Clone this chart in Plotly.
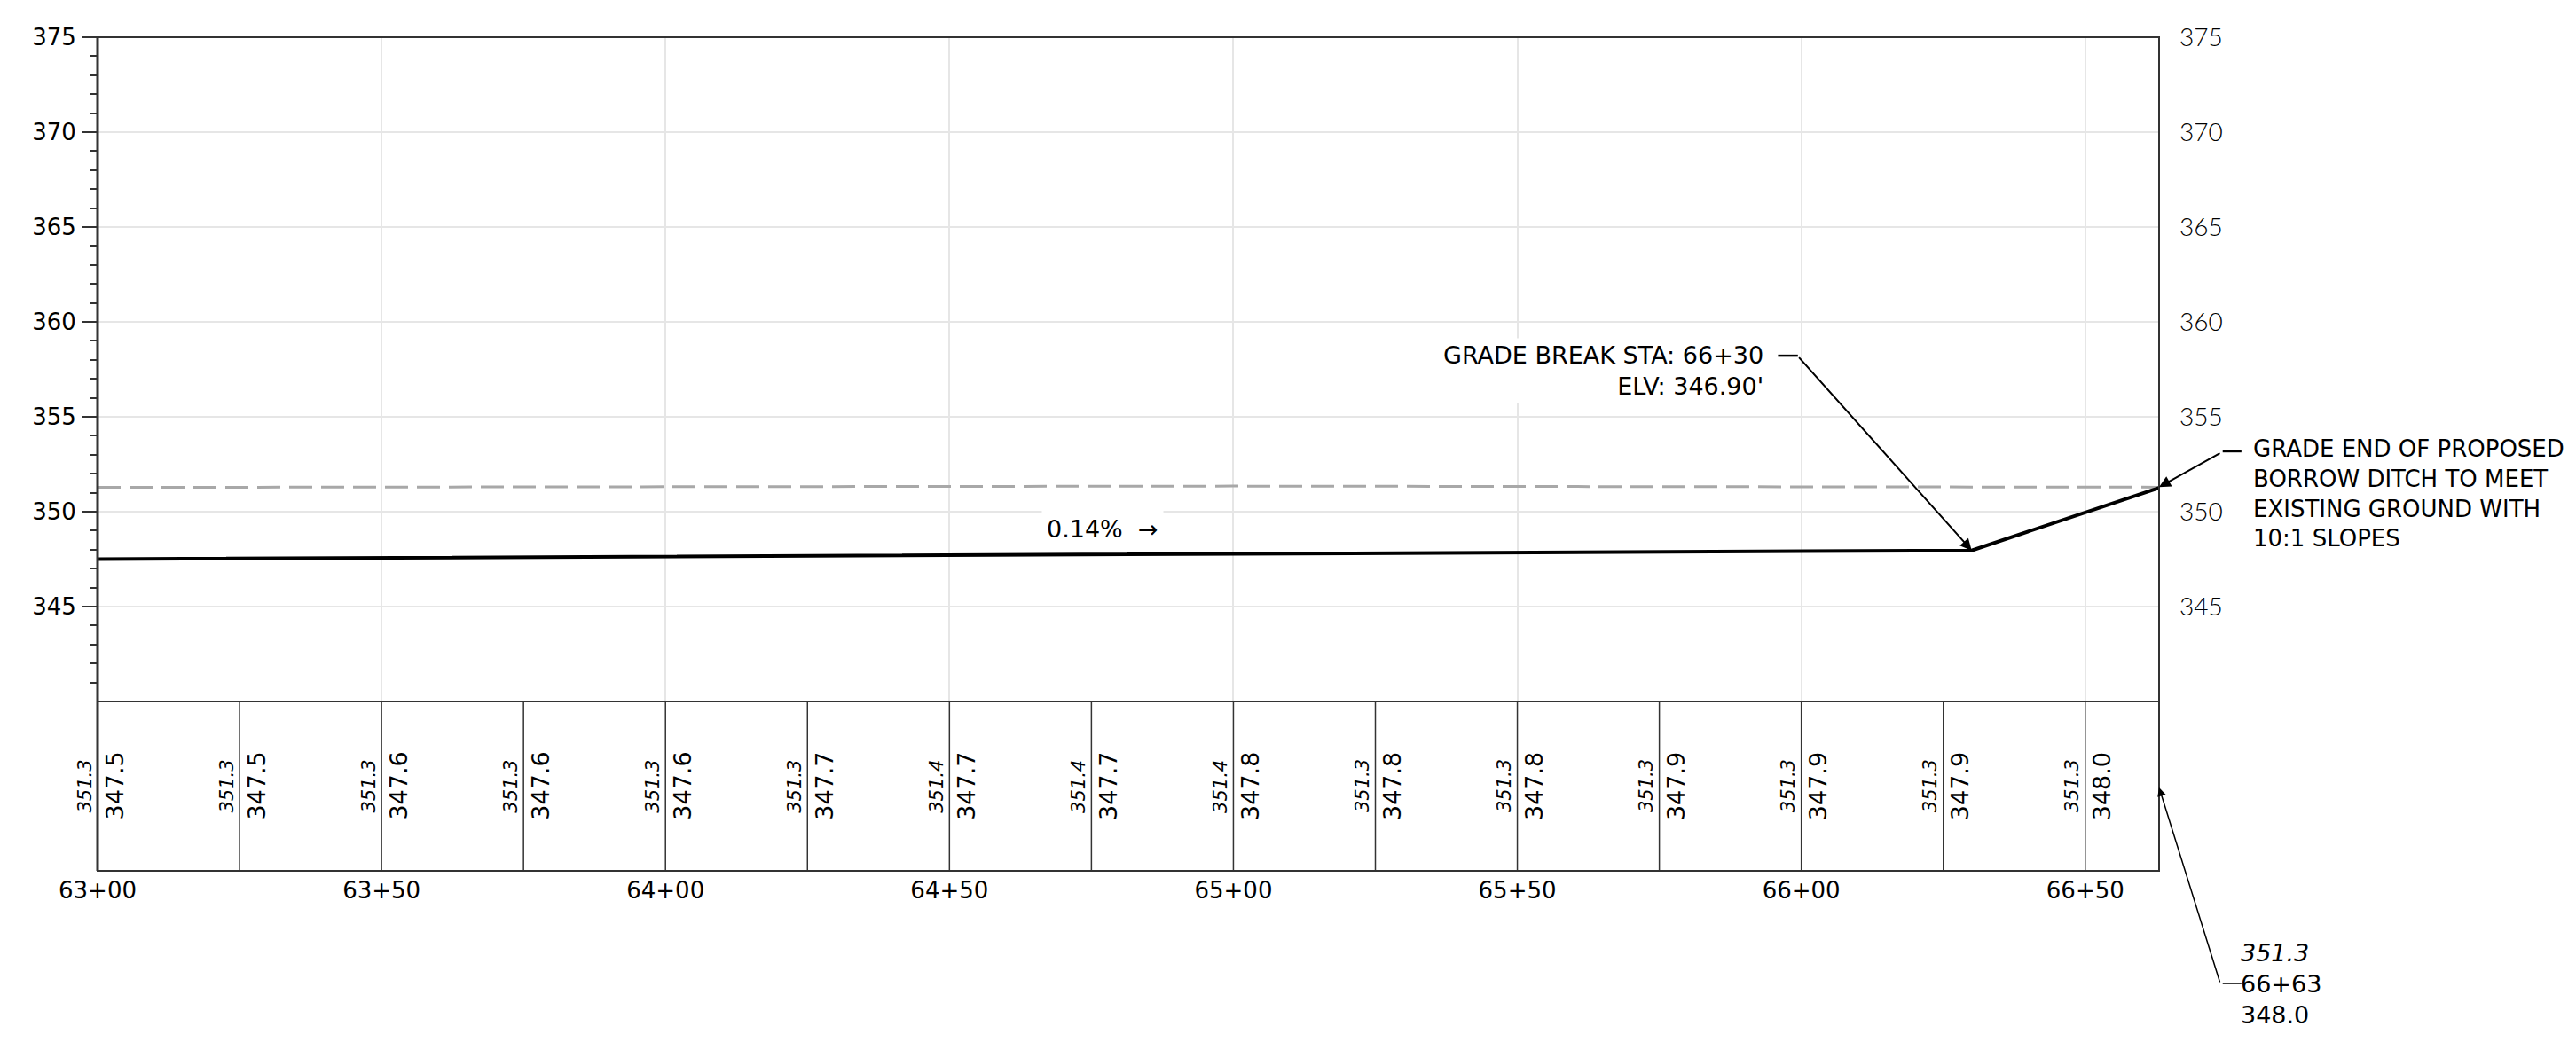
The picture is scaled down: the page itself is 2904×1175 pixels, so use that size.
import plotly.graph_objects as go

# ---------------- data ----------------
X0, X1 = 6300, 6663           # station range (ft)
Y0, Y1 = 340, 375             # elevation range (ft)

station_ticks = [6300, 6350, 6400, 6450, 6500, 6550, 6600, 6650]
station_labels = ["63+00", "63+50", "64+00", "64+50", "65+00", "65+50", "66+00", "66+50"]

elev_ticks = [345, 350, 355, 360, 365, 370, 375]
elev_minor = [v for v in range(341, 375) if v % 5 != 0]

# existing ground (dashed)
ground_sta = [6300, 6400, 6450, 6500, 6550, 6600, 6663]
ground_elev = [351.28, 351.31, 351.34, 351.35, 351.33, 351.31, 351.29]

# proposed ditch grade
prop_sta = [6300, 6630, 6663]
prop_elev = [347.50, 347.96, 351.26]

# table band values
table_sta = [6300, 6325, 6350, 6375, 6400, 6425, 6450, 6475, 6500, 6525, 6550, 6575, 6600, 6625, 6650]
table_exist = ["351.3", "351.3", "351.3", "351.3", "351.3", "351.3", "351.4", "351.4", "351.4",
               "351.3", "351.3", "351.3", "351.3", "351.3", "351.3"]
table_prop = ["347.5", "347.5", "347.6", "347.6", "347.6", "347.7", "347.7", "347.7", "347.8",
              "347.8", "347.8", "347.9", "347.9", "347.9", "348.0"]

# ---------------- layout geometry ----------------
W, H = 2904, 1175
ML, MR, MT, MB = 102, 478, 34, 201
TABLE_FRAC = 191 / (H - MT - MB)

def px_(sta):
    return (sta - X0) / (X1 - X0)

def py_(elev):
    return TABLE_FRAC + (elev - Y0) / (Y1 - Y0) * (1 - TABLE_FRAC)

FONT = "DejaVu Sans"
BORDER = "#333333"
GRID = "#e6e6e6"

fig = go.Figure()

fig.add_trace(go.Scatter(x=ground_sta, y=ground_elev, mode="lines",
                         line=dict(color="#a8a8a8", width=3, dash="26px,10px"),
                         hoverinfo="skip", showlegend=False, xaxis="x", yaxis="y"))
fig.add_trace(go.Scatter(x=prop_sta, y=prop_elev, mode="lines",
                         line=dict(color="black", width=4),
                         hoverinfo="skip", showlegend=False, xaxis="x", yaxis="y"))
# invisible traces so every axis is rendered
fig.add_trace(go.Scatter(x=[X0], y=[Y0], mode="markers", marker=dict(opacity=0),
                         hoverinfo="skip", showlegend=False, xaxis="x", yaxis="y3"))
fig.add_trace(go.Scatter(x=[X0], y=[0.5], mode="markers", marker=dict(opacity=0),
                         hoverinfo="skip", showlegend=False, xaxis="x2", yaxis="y2"))

shapes = []
# outer frame
shapes.append(dict(type="rect", xref="paper", yref="paper", x0=0, x1=1, y0=0, y1=1,
                   line=dict(color=BORDER, width=2), layer="above"))
shapes.append(dict(type="line", xref="paper", yref="paper", x0=0, x1=0, y0=0, y1=1,
                   line=dict(color=BORDER, width=3), layer="above"))
# table top line
shapes.append(dict(type="line", xref="paper", yref="paper", x0=0, x1=1, y0=TABLE_FRAC, y1=TABLE_FRAC,
                   line=dict(color=BORDER, width=2), layer="above"))
# table dividers
for s in table_sta[1:]:
    shapes.append(dict(type="line", xref="x2", yref="y2", x0=s, x1=s, y0=0, y1=1,
                       line=dict(color=BORDER, width=1.5), layer="above"))

# leader stubs
shapes.append(dict(type="line", xref="paper", yref="paper",
                   x0=px_(6595.9), x1=px_(6599.4), y0=py_(358.22), y1=py_(358.22),
                   line=dict(color="black", width=2.5)))
shapes.append(dict(type="line", xref="paper", yref="paper",
                   x0=px_(6674.2), x1=px_(6677.5), y0=py_(353.18), y1=py_(353.18),
                   line=dict(color="black", width=2.5)))
shapes.append(dict(type="line", xref="paper", yref="paper",
                   x0=px_(6674.2), x1=px_(6677.5), y0=-0.665 * TABLE_FRAC, y1=-0.665 * TABLE_FRAC,
                   line=dict(color="black", width=1.5)))

ann = []
for s, e, p in zip(table_sta, table_exist, table_prop):
    ann.append(dict(x=s, y=0.5, xref="x2", yref="y2", text=f"<i>{e}</i>", textangle=-90,
                    showarrow=False, xshift=-15, font=dict(family=FONT, size=21, color="black")))
    ann.append(dict(x=s, y=0.5, xref="x2", yref="y2", text=p, textangle=-90,
                    showarrow=False, xshift=19, font=dict(family=FONT, size=27, color="black")))

ann.append(dict(x=6477.0, y=349.1, xref="x", yref="y", text="0.14%  →", showarrow=False,
                bgcolor="white", borderpad=5, font=dict(family=FONT, size=27, color="black")))

ann.append(dict(x=6593.9, y=357.45, xref="x", yref="y", xanchor="right", yanchor="middle",
                align="right", text="GRADE BREAK STA: 66+30<br>ELV: 346.90'", showarrow=False,
                bgcolor="white", borderpad=3, font=dict(family=FONT, size=27, color="black")))
ann.append(dict(x=6630, y=347.96, xref="x", yref="y", text="", showarrow=True,
                ax=-196, ay=-219, arrowhead=2, arrowsize=1.3, arrowwidth=2, arrowcolor="black"))

ann.append(dict(x=px_(6679.2), y=py_(350.95), xref="paper", yref="paper", xanchor="left",
                yanchor="middle", align="left",
                text="GRADE END OF PROPOSED<br>BORROW DITCH TO MEET<br>EXISTING GROUND WITH<br>10:1 SLOPES",
                showarrow=False, font=dict(family=FONT, size=26, color="black")))
ann.append(dict(x=6663, y=351.3, xref="x", yref="y", text="", showarrow=True,
                ax=70, ay=-39, arrowhead=2, arrowsize=1.3, arrowwidth=2, arrowcolor="black"))

ann.append(dict(x=px_(6677.0), y=-0.665 * TABLE_FRAC, xref="paper", yref="paper", xanchor="left",
                yanchor="middle", align="left", text="<i>351.3</i><br>66+63<br>348.0",
                showarrow=False, font=dict(family=FONT, size=27, color="black")))
ann.append(dict(x=6663, y=0.492, xref="x2", yref="y2", text="", showarrow=True,
                ax=69, ay=221, arrowhead=2, arrowsize=1.3, arrowwidth=1.5, arrowcolor="black"))

fig.update_layout(
    width=W, height=H,
    margin=dict(l=ML, r=MR, t=MT, b=MB, pad=0),
    paper_bgcolor="white", plot_bgcolor="white",
    showlegend=False,
    xaxis=dict(domain=[0, 1], range=[X0, X1], anchor="y", tickmode="array",
               tickvals=station_ticks, showticklabels=False, ticks="",
               showgrid=True, gridcolor=GRID, gridwidth=2, zeroline=False, showline=False),
    xaxis2=dict(domain=[0, 1], range=[X0, X1], matches="x", anchor="y2", tickmode="array",
                tickvals=station_ticks, ticktext=station_labels, ticks="", showgrid=False,
                zeroline=False, showline=False, ticklabelstandoff=4,
                tickfont=dict(family=FONT, size=26, color="black")),
    yaxis=dict(domain=[TABLE_FRAC, 1], range=[Y0, Y1], anchor="x", tickmode="array",
               tickvals=elev_ticks, ticks="outside", ticklen=16, tickwidth=2, tickcolor=BORDER,
               showgrid=True, gridcolor=GRID, gridwidth=2, zeroline=False, showline=False,
               tickfont=dict(family=FONT, size=26, color="black"), ticklabelstandoff=2,
               minor=dict(tickmode="array", tickvals=elev_minor, ticks="outside", ticklen=8,
                          tickwidth=2, tickcolor=BORDER, showgrid=False)),
    yaxis3=dict(overlaying="y", side="right", anchor="x", range=[Y0, Y1], tickmode="array",
                tickvals=elev_ticks, ticks="", showgrid=False, zeroline=False, showline=False,
                ticklabelstandoff=22,
                tickfont=dict(family="Lato", size=28, color="black", weight=300)),
    yaxis2=dict(domain=[0, TABLE_FRAC], range=[0, 1], anchor="x2", showticklabels=False,
                showgrid=False, zeroline=False, ticks="", showline=False),
    shapes=shapes,
    annotations=ann,
)

fig.write_html("out.html")
